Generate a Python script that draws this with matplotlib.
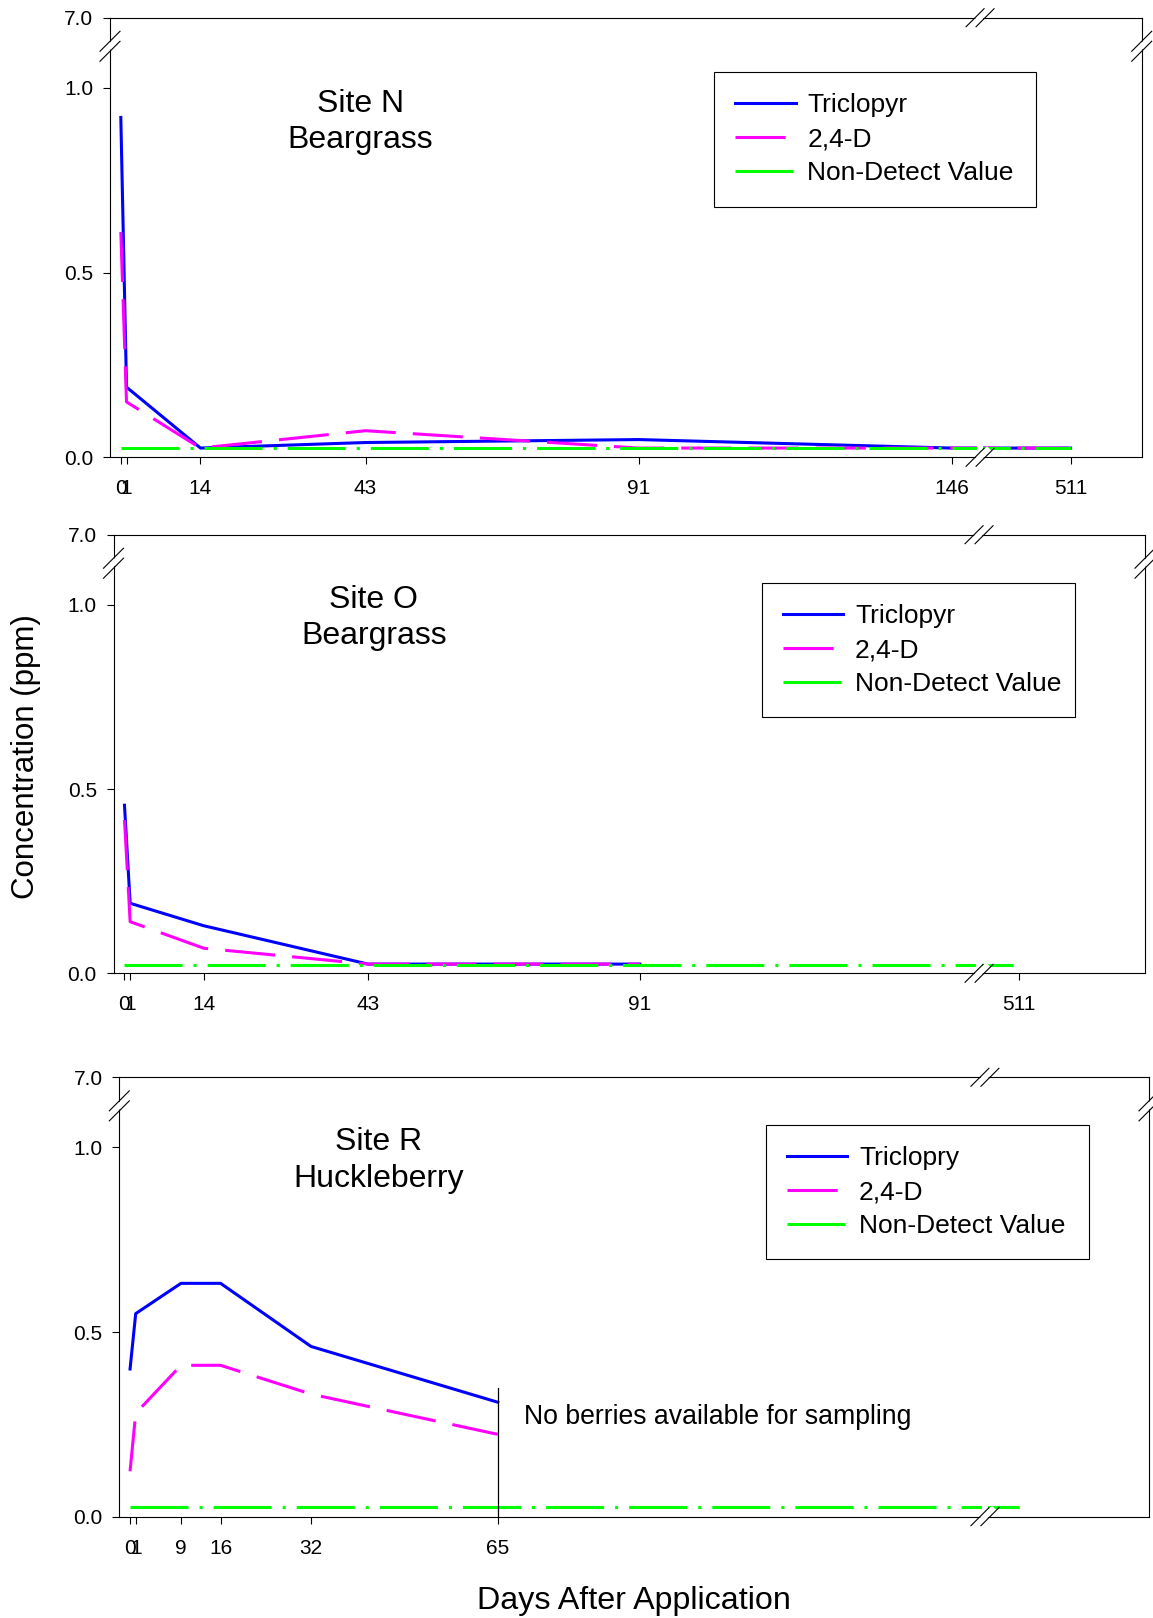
import numpy as np
import matplotlib
matplotlib.use("Agg")
import matplotlib.pyplot as plt

plt.rcParams['font.family'] = ['Liberation Sans', 'DejaVu Sans']

FIG_W, FIG_H = 1153, 1618

# ---- data (ppm) -------------------------------------------------------------
# Site N - Beargrass
days_n = [0, 1, 14, 43, 91, 146, 511]
tric_n = [0.92, 0.19, 0.025, 0.040, 0.048, 0.025, 0.025]
d24_n = [0.61, 0.15, 0.025, 0.072, 0.025, 0.025, 0.025]
nd_days_n = [0, 511]
nd_n = [0.025, 0.025]

# Site O - Beargrass
days_o = [0, 1, 14, 43, 91]
tric_o = [0.456, 0.19, 0.129, 0.025, 0.025]
d24_o = [0.416, 0.14, 0.068, 0.025, 0.025]
nd_days_o = [0, 511]
nd_o = [0.023, 0.023]

# Site R - Huckleberry
days_r = [0, 1, 9, 16, 32, 65]
tric_r = [0.40, 0.55, 0.632, 0.632, 0.461, 0.31]
d24_r = [0.123, 0.28, 0.41, 0.41, 0.332, 0.223]
nd_days_r = [0, 511]
nd_r = [0.026, 0.026]

xticks_n = [0, 1, 14, 43, 91, 146, 511]
xticks_o = [0, 1, 14, 43, 91, 511]
xticks_r = [0, 1, 9, 16, 32, 65]
yticks = [0.0, 0.5, 1.0, 7.0]
ytick_labels = ['0.0', '0.5', '1.0', '7.0']

# ---- broken axis scales -----------------------------------------------------
Y_SQUEEZE = 0.19 / 6.0   # 1.0 .. 7.0 squeezed into the top strip


def y_fwd(y):
    y = np.asarray(y, dtype=float)
    return np.where(y <= 1.0, y, 1.0 + (y - 1.0) * Y_SQUEEZE)


def y_inv(y):
    y = np.asarray(y, dtype=float)
    return np.where(y <= 1.0, y, 1.0 + (y - 1.0) / Y_SQUEEZE)


def make_x_funcs(b1, b2):
    gap = b2 - b1

    def fwd(x):
        x = np.asarray(x, dtype=float)
        return np.where(x <= b1, x, np.where(x >= b2, x - gap, b1))

    def inv(x):
        x = np.asarray(x, dtype=float)
        return np.where(x <= b1, x, x + gap)
    return fwd, inv


def slash(ax, xc, yc, dx_px, dy_px, sep):
    # xc, yc axes fraction; sep = (sx, sy) pixel offset between the two strokes
    pos = ax.get_position()
    wpx, hpx = pos.width * FIG_W, pos.height * FIG_H
    fx, fy = 1.0 / wpx, 1.0 / hpx
    kw = dict(transform=ax.transAxes, clip_on=False)
    ax.plot([xc - dx_px * fx, xc + dx_px * fx],
            [yc - dy_px * fy, yc + dy_px * fy],
            color='white', lw=4.0, solid_capstyle='butt', zorder=6, **kw)
    for s in (-1, 1):
        cx, cy = xc + s * sep[0] * fx, yc + s * sep[1] * fy
        ax.plot([cx - dx_px * fx, cx + dx_px * fx],
                [cy - dy_px * fy, cy + dy_px * fy],
                color='black', lw=0.8, zorder=7, **kw)


def draw_panel(ax, days, tric, d24, nd_days, nd, xticks, brk, xlim,
               title, title_xy, labels, leg_box):
    fwd, inv = make_x_funcs(*brk)
    ax.set_xscale('function', functions=(fwd, inv))
    ax.set_yscale('function', functions=(y_fwd, y_inv))
    ax.set_xlim(*xlim)
    ax.set_ylim(0, 7.0)

    ax.plot(days, tric, color='#0000ff', lw=2.2, label=labels[0], zorder=3)
    ax.plot(days, d24, color='#ff00ff', lw=2.2, linestyle=(0, (16.4, 5.6)),
            label=labels[1], zorder=3)
    ax.plot(nd_days, nd, color='#00ff00', lw=2.2,
            linestyle=(0, (19, 3.6, 1, 3.6)), label=labels[2], zorder=4)

    ax.set_xticks(xticks)
    ax.set_xticklabels([str(t) for t in xticks])
    ax.set_yticks(yticks)
    ax.set_yticklabels(ytick_labels)
    ax.minorticks_off()
    ax.tick_params(axis='both', direction='out', length=5, width=0.8,
                   labelsize=15, top=False, right=False)
    ax.tick_params(axis='x', pad=10.7)
    ax.tick_params(axis='y', pad=7)
    for sp in ax.spines.values():
        sp.set_linewidth(0.8)
        sp.set_color('black')

    ax.text(title_xy[0], title_xy[1], title, transform=ax.transAxes,
            ha='center', va='center', ma='center', fontsize=23,
            linespacing=1.27)

    x0, y0, x1, y1 = leg_box
    leg = ax.legend(loc='upper left', bbox_to_anchor=(x0, y0, x1 - x0, y1 - y0),
                    mode='expand', borderaxespad=0, fontsize=19, frameon=True,
                    fancybox=False, edgecolor='black', framealpha=1,
                    handlelength=2.28, handletextpad=0.45, labelspacing=0.38,
                    borderpad=0.8)
    leg.get_frame().set_linewidth(0.8)
    leg.set_zorder(10)

    # axis breaks
    x_lo, x_hi = fwd(xlim[0]), fwd(xlim[1])
    xb = float((fwd(brk[0]) - x_lo) / (x_hi - x_lo))
    yb = 0.935
    slash(ax, xb, 0.0, 9, 9, (5, 0))
    slash(ax, xb, 1.0, 9, 9, (5, 0))
    slash(ax, 0.0, yb, 10, 10, (0, 5))
    slash(ax, 1.0, yb, 10, 10, (0, 5))
    # gap in the data lines at the x break
    ax.plot([xb, xb], [0.003, 0.06], transform=ax.transAxes, color='white',
            lw=4.5, solid_capstyle='butt', zorder=5)


fig = plt.figure(figsize=(FIG_W / 100, FIG_H / 100), dpi=100)
ax1 = fig.add_axes([110 / FIG_W, 1 - 457.3 / FIG_H, 1031.7 / FIG_W, 439.6 / FIG_H])
ax2 = fig.add_axes([113.5 / FIG_W, 1 - 973.3 / FIG_H, 1031.5 / FIG_W, 438.6 / FIG_H])
ax3 = fig.add_axes([119.3 / FIG_W, 1 - 1516.7 / FIG_H, 1029.7 / FIG_W, 439.4 / FIG_H])

draw_panel(ax1, days_n, tric_n, d24_n, nd_days_n, nd_n, xticks_n,
           (151.0, 495.1), (-1.9, 523.5), 'Site N\nBeargrass', (0.2425, 0.762),
           ['Triclopyr', '2,4-D', 'Non-Detect Value'],
           (0.5857, 0.5707, 0.898, 0.8758))
draw_panel(ax2, days_o, tric_o, d24_o, nd_days_o, nd_o, xticks_o,
           (150.9, 503.9), (-1.94, 533.2), 'Site O\nBeargrass', (0.2523, 0.8105),
           ['Triclopyr', '2,4-D', 'Non-Detect Value'],
           (0.6285, 0.5857, 0.9321, 0.8894))
draw_panel(ax3, days_r, tric_r, d24_r, nd_days_r, nd_r, xticks_r,
           (151.1, 503.8), (-1.9, 532.8), 'Site R\nHuckleberry', (0.252, 0.8105),
           ['Triclopry', '2,4-D', 'Non-Detect Value'],
           (0.628, 0.5859, 0.9418, 0.891))

# end of berry sampling
ax3.plot([65, 65], [0, 0.348], color='black', lw=0.9, zorder=5)
ax3.text(69.6, 0.27, 'No berries available for sampling', fontsize=19.2,
         ha='left', va='center')

fig.text(634 / FIG_W, 1 - 1601 / FIG_H, 'Days After Application',
         fontsize=23.2, ha='center', va='center')
fig.text(25.8 / FIG_W, 1 - 756.6 / FIG_H, 'Concentration (ppm)',
         fontsize=22.5, ha='center', va='center', rotation=90)

fig.savefig('out.png', dpi=100)
